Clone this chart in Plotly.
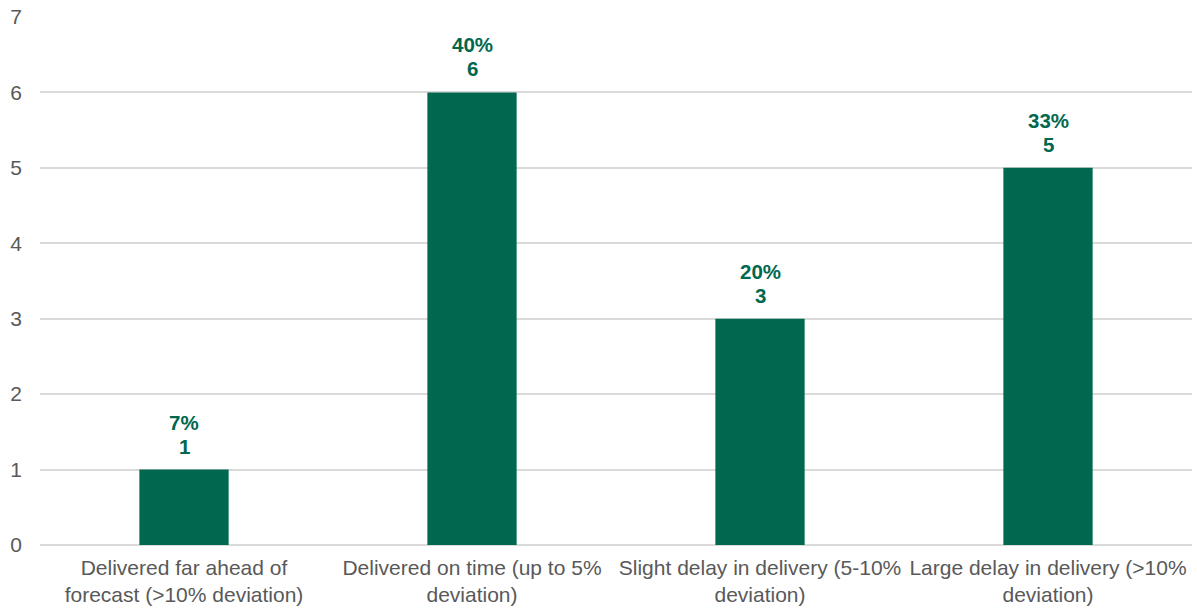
import plotly.graph_objects as go

categories = [
    "Delivered far ahead of<br>forecast (>10% deviation)",
    "Delivered on time (up to 5%<br>deviation)",
    "Slight delay in delivery (5-10%<br>deviation)",
    "Large delay in delivery (>10%<br>deviation)",
]
counts = [1, 6, 3, 5]
shares = ["7%", "40%", "20%", "33%"]

bar_color = "#00684F"
text_gray = "#595959"
font_family = "Liberation Sans, Arial, sans-serif"

fig = go.Figure(
    go.Bar(
        x=categories,
        y=counts,
        marker=dict(color=bar_color, line=dict(width=0)),
        width=0.31,
        hoverinfo="skip",
    )
)

# Two-line labels above each bar: share on top, count below
label_font = dict(family=font_family, size=20.5, color=bar_color)
for cat, n, pct in zip(categories, counts, shares):
    fig.add_annotation(
        x=cat, y=n, text=f"<b>{n}</b>",
        showarrow=False, yanchor="bottom", yshift=10, font=label_font,
    )
    fig.add_annotation(
        x=cat, y=n, text=f"<b>{pct}</b>",
        showarrow=False, yanchor="bottom", yshift=34, font=label_font,
    )

fig.update_layout(
    width=1197, height=612,
    margin=dict(l=40, r=5, t=17, b=67),
    plot_bgcolor="white",
    paper_bgcolor="white",
    showlegend=False,
    font=dict(family=font_family, size=21, color=text_gray),
    xaxis=dict(
        showgrid=False,
        showline=False,
        ticks="",
        ticklabelstandoff=8,
        tickfont=dict(size=21, color=text_gray),
    ),
    yaxis=dict(
        range=[0, 7],
        dtick=1,
        showgrid=True,
        gridcolor="#D9D9D9",
        gridwidth=1.5,
        zeroline=True,
        zerolinecolor="#D9D9D9",
        zerolinewidth=1.5,
        showline=False,
        ticks="",
        ticklabelstandoff=17,
        tickfont=dict(size=21, color=text_gray),
    ),
)

fig.write_html("out.html")
